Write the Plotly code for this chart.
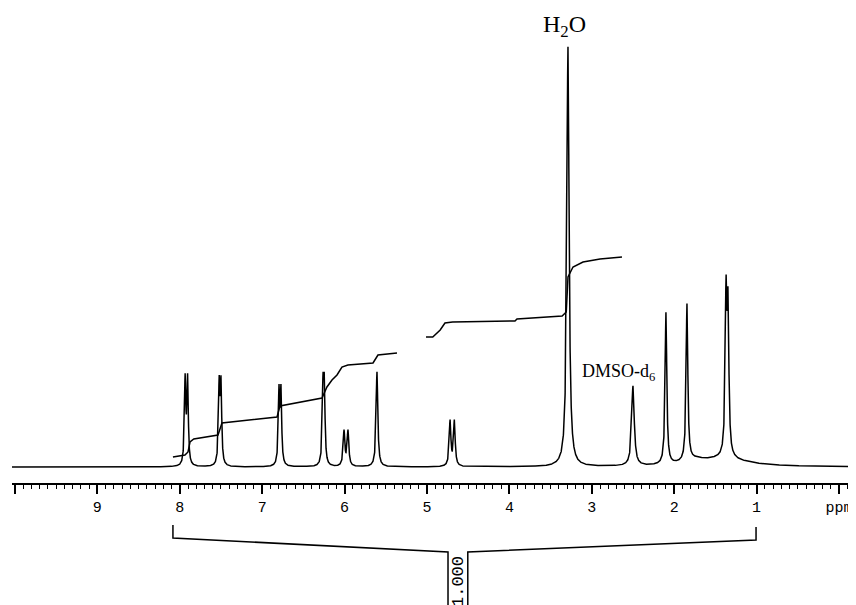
import numpy as np
import plotly.graph_objects as go

# ---- spectrum peaks ----
peak_ppm = [7.935, 7.905, 7.522, 7.500, 6.796, 6.772, 6.262, 6.246, 6.007, 5.959,
            5.607, 4.720, 4.668, 3.289, 2.500, 2.100, 1.845, 1.371, 1.347]
peak_height = [85, 85, 78, 78, 72, 72, 73, 73, 35, 35,
               95, 45, 45, 420, 80, 152, 157, 155, 140]
peak_hwhm = [0.010, 0.010, 0.010, 0.010, 0.010, 0.010, 0.010, 0.010, 0.012, 0.012,
             0.012, 0.012, 0.012, 0.016, 0.018, 0.012, 0.012, 0.012, 0.012]

# broad underlying humps
hump_ppm = [1.40, 1.75]
hump_height = [8, 4]
hump_hwhm = [0.35, 0.15]

# ---- integral trace (ppm, height) ----
int1_ppm = [8.083, 7.990, 7.937, 7.900, 7.876, 7.830, 7.536, 7.488, 6.820, 6.784,
            6.274, 6.214, 6.153, 6.092, 6.032, 5.960, 5.655, 5.595, 5.364]
int1_val = [10, 11, 12, 15, 25, 28, 32, 44, 50, 61,
            69, 80, 87, 92, 100, 102, 104, 112, 114]
int2_ppm = [5.012, 4.930, 4.840, 4.782, 4.690, 3.932, 3.908, 3.360, 3.310, 3.289,
            3.228, 3.107, 2.900, 2.634]
int2_val = [130, 130, 137, 144, 145, 146, 148, 151, 155, 190,
            200, 205, 208, 210]

# ---- integration bracket ----
bracket_left_ppm = [8.083, 8.083, 4.745, 4.745]
bracket_left_val = [-58, -71, -85, -150]
bracket_right_ppm = [4.505, 4.505, 1.007, 1.007]
bracket_right_val = [-150, -85, -73, -60]
integral_label = "1.000"

# ---- axis ticks ----
tick_vals = [0, 1, 2, 3, 4, 5, 6, 7, 8, 9, 10]
tick_text = ["ppm", "1", "2", "3", "4", "5", "6", "7", "8", "9", " "]

x = np.arange(-0.21, 10.04, 0.0008)
y = np.zeros_like(x)
for p, h, g in zip(peak_ppm + hump_ppm, peak_height + hump_height, peak_hwhm + hump_hwhm):
    y += h * g**2 / ((x - p) ** 2 + g**2)

line = dict(color="black", width=1.5)
fig = go.Figure()
fig.add_trace(go.Scatter(x=x, y=y, mode="lines", line=line, hoverinfo="skip"))
fig.add_trace(go.Scatter(x=int1_ppm, y=int1_val, mode="lines", line=line))
fig.add_trace(go.Scatter(x=int2_ppm, y=int2_val, mode="lines", line=line))
fig.add_trace(go.Scatter(x=bracket_left_ppm, y=bracket_left_val, mode="lines", line=line))
fig.add_trace(go.Scatter(x=bracket_right_ppm, y=bracket_right_val, mode="lines", line=line))

fig.add_annotation(x=3.337, y=441, text="H<sub>2</sub>O", showarrow=False,
                   font=dict(family="Liberation Serif", size=24, color="black"))
fig.add_annotation(x=2.68, y=95, text="DMSO-d<sub>6</sub>", showarrow=False,
                   font=dict(family="Liberation Serif", size=18, color="black"))
fig.add_annotation(x=4.624, y=-114, text=integral_label, showarrow=False, textangle=-90,
                   font=dict(family="Liberation Mono", size=17, color="black"))

# page body has an 8px default margin; figure is sized to fill the rest of the window
fig.update_layout(
    template="none",
    width=848, height=597,
    margin=dict(l=4, r=0, t=0, b=0),
    paper_bgcolor="white", plot_bgcolor="white",
    showlegend=False,
    xaxis=dict(
        range=[10.036, -0.206], anchor="free", position=0.2027,
        showline=True, linecolor="black", linewidth=1.5,
        ticks="outside", ticklen=9, tickwidth=1.5, tickcolor="black",
        tickvals=tick_vals, ticktext=tick_text,
        tickfont=dict(family="Liberation Mono", size=15, color="black"),
        minor=dict(dtick=0.1, ticks="outside", ticklen=4, tickwidth=1, tickcolor="black"),
        showgrid=False, zeroline=False, automargin=False,
    ),
    yaxis=dict(range=[-138, 459], visible=False, domain=[0, 1], automargin=False),
)

fig.write_html("out.html")
